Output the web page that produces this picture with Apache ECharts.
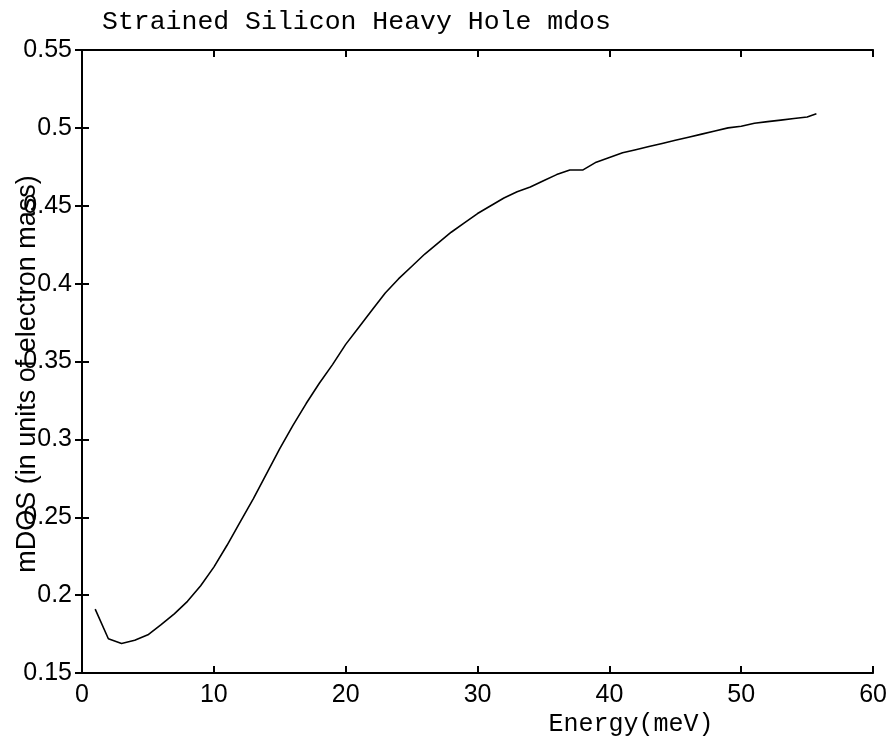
<!DOCTYPE html>
<html>
<head>
<meta charset="utf-8">
<script src="https://cdn.jsdelivr.net/npm/echarts@6/dist/echarts.min.js"></script>
<style>html,body{margin:0;padding:0;background:#fff}#c{width:890px;height:739px}</style>
</head>
<body>
<div id="c"></div>
<script>
var titleText = 'Strained Silicon Heavy Hole mdos';
var xLabel = 'Energy(meV)';
var yLabel = 'mDOS (in units of electron mass)';
var energy = [1,2,3,4,5,6,7,8,9,10,11,12,13,14,15,16,17,18,19,20,21,22,23,24,25,26,27,28,29,30,31,32,33,34,35,36,37,38,39,40,41,42,43,44,45,46,47,48,49,50,51,52,53,54,55,55.7];
var mdos = [0.191,0.172,0.169,0.171,0.1745,0.181,0.188,0.196,0.206,0.218,0.232,0.247,0.262,0.278,0.294,0.309,0.323,0.336,0.348,0.361,0.372,0.383,0.394,0.403,0.411,0.419,0.426,0.433,0.439,0.445,0.450,0.455,0.459,0.462,0.466,0.470,0.473,0.473,0.478,0.481,0.484,0.486,0.488,0.490,0.492,0.494,0.496,0.498,0.500,0.501,0.503,0.504,0.505,0.506,0.507,0.509];
var xMin = 0, xMax = 60, xStep = 10;
var yMin = 0.15, yMax = 0.55, yStep = 0.05;

var pts = energy.map(function(e,i){return [e, mdos[i]];});
var chart = echarts.init(document.getElementById('c'), null, {renderer:'canvas'});
var axisLine = {show:true, lineStyle:{color:'#000', width:2}};
var tick = {show:true, inside:true, length:7, lineStyle:{color:'#000', width:2}};
var lblFont = {color:'#000', fontFamily:'Liberation Sans, Arial, sans-serif', fontSize:25};
chart.setOption({
  animation:false,
  backgroundColor:'#fff',
  title:{text:titleText, left:97, top:3, textStyle:{fontFamily:'Liberation Mono, Courier New, monospace', fontWeight:'normal', fontSize:26.5, color:'#000'}},
  grid:{left:82, right:13, top:50, bottom:66, containLabel:false},
  xAxis:[
    {type:'value', position:'bottom', min:xMin, max:xMax, interval:xStep, axisLine:axisLine, axisTick:tick, splitLine:{show:false},
     axisLabel:Object.assign({margin:10, formatter:function(v){return String(v);}}, lblFont)},
    {type:'value', position:'top', min:xMin, max:xMax, interval:xStep, axisLine:axisLine, axisTick:tick, splitLine:{show:false}, axisLabel:{show:false}}
  ],
  yAxis:[
    {type:'value', position:'left', min:yMin, max:yMax, interval:yStep, axisLine:axisLine, axisTick:tick, splitLine:{show:false},
     axisLabel:Object.assign({margin:10, formatter:function(v){return String(parseFloat(v.toFixed(2)));}}, lblFont)},
    {type:'value', position:'right', min:yMin, max:yMax, interval:yStep, axisLine:axisLine, axisTick:tick, splitLine:{show:false}, axisLabel:{show:false}}
  ],
  graphic:[
    {type:'text', x:631, y:724, style:{text:xLabel, font:'25px "Liberation Mono", "Courier New", monospace', fill:'#000', textAlign:'center', textVerticalAlign:'middle'}},
    {type:'text', x:28, y:374, rotation:Math.PI/2, style:{text:yLabel, font:'27px "Liberation Sans", Arial, sans-serif', fill:'#000', textAlign:'center', textVerticalAlign:'middle'}}
  ],
  series:[{type:'line', data:pts, showSymbol:false, lineStyle:{color:'#000', width:1.6}, itemStyle:{color:'#000'}}]
});
</script>
</body>
</html>
